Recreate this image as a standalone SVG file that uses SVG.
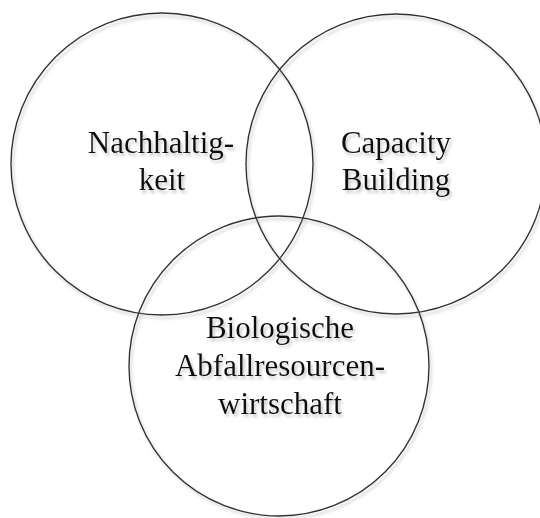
<svg xmlns="http://www.w3.org/2000/svg" width="540" height="518" viewBox="0 0 540 518">
  <defs>
    <filter id="soft-shadow" x="-10%" y="-10%" width="120%" height="120%">
      <feDropShadow dx="2" dy="3" stdDeviation="1.6" flood-color="#9a9a9a" flood-opacity="0.55"/>
    </filter>
  </defs>
  <style>
    .ring { fill: none; stroke: #333333; stroke-width: 1.4; filter: url(#soft-shadow); }
    .label { font-family: "Liberation Serif", "Times New Roman", serif; font-size: 31px; fill: #111111; text-anchor: middle; filter: url(#soft-shadow); }
  </style>
  <rect width="540" height="518" fill="#ffffff"/>

  <g id="nachhaltigkeit">
    <circle class="ring" cx="162" cy="164" r="151"/>
    <text class="label" x="161" y="153">Nachhaltig-</text>
    <text class="label" x="162" y="190">keit</text>
  </g>

  <g id="capacity-building">
    <circle class="ring" cx="396" cy="164" r="150"/>
    <text class="label" x="396" y="153">Capacity</text>
    <text class="label" x="396" y="190">Building</text>
  </g>

  <g id="abfallressourcen">
    <circle class="ring" cx="279" cy="366" r="150"/>
    <text class="label" x="280" y="338">Biologische</text>
    <text class="label" x="280" y="376">Abfallresourcen-</text>
    <text class="label" x="280" y="414">wirtschaft</text>
  </g>

  <g id="connectors"/>
</svg>
